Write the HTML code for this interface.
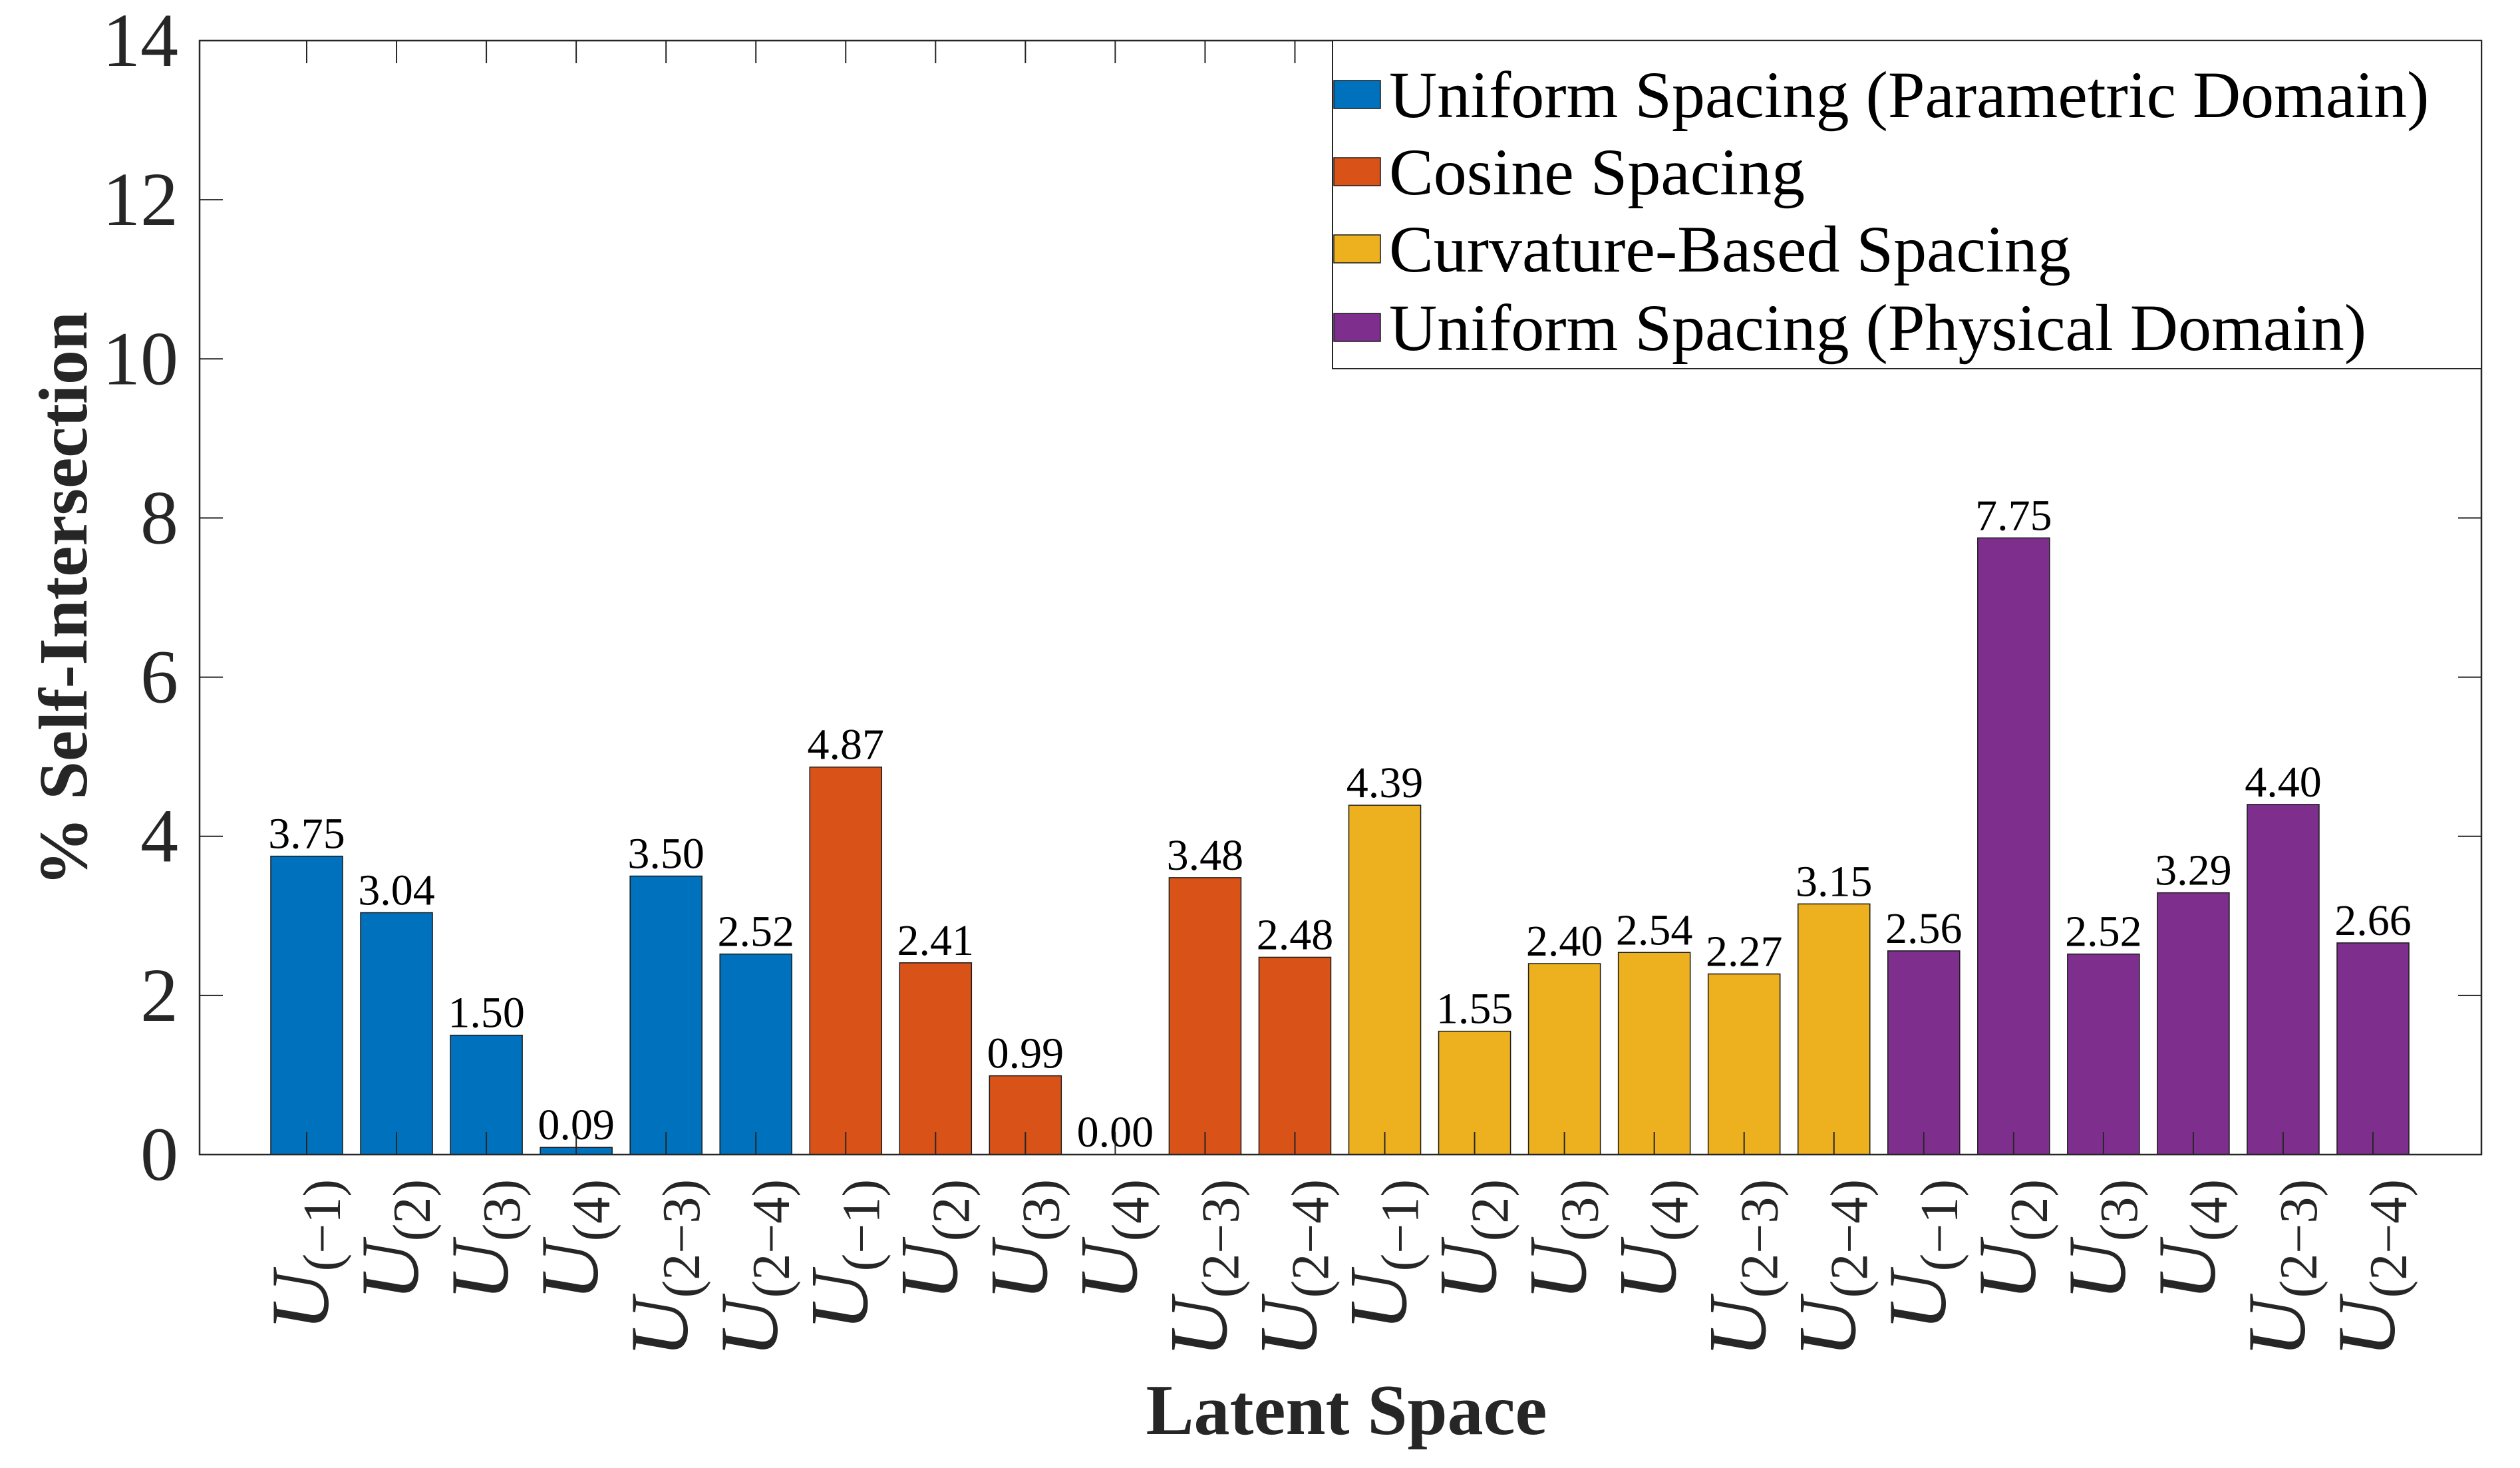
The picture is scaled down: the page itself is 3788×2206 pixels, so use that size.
<!DOCTYPE html>
<html><head><meta charset="utf-8"><style>
html,body{margin:0;padding:0;background:#fff}
svg{display:block}
</style></head><body>
<svg id="chart" width="3788" height="2206" viewBox="0 0 3788 2206" xmlns="http://www.w3.org/2000/svg" font-family="'Liberation Serif', serif">
<rect x="0" y="0" width="3788" height="2206" fill="#fff"/>
<g id="bars"></g>
<g id="axes"></g>
<text x="2024" y="2155" font-size="108" font-weight="bold" text-anchor="middle" fill="#262626">Latent Space</text>
<text transform="translate(130,900) rotate(-90)" font-size="104" font-weight="bold" text-anchor="middle" fill="#262626">% Self-Intersection</text>
<g>
<rect x="2003" y="61" width="1727" height="493" fill="#fff" stroke="#262626" stroke-width="2"/>
<g id="legend-entries"></g>
</g>
</svg>
<script>
const categories = ["(−1)","(2)","(3)","(4)","(2−3)","(2−4)","(−1)","(2)","(3)","(4)","(2−3)","(2−4)","(−1)","(2)","(3)","(4)","(2−3)","(2−4)","(−1)","(2)","(3)","(4)","(2−3)","(2−4)"];
const values = [3.75,3.04,1.50,0.09,3.50,2.52,4.87,2.41,0.99,0.00,3.48,2.48,4.39,1.55,2.40,2.54,2.27,3.15,2.56,7.75,2.52,3.29,4.40,2.66];
const valueLabels = ["3.75","3.04","1.50","0.09","3.50","2.52","4.87","2.41","0.99","0.00","3.48","2.48","4.39","1.55","2.40","2.54","2.27","3.15","2.56","7.75","2.52","3.29","4.40","2.66"];
const groupOf = [0,0,0,0,0,0,1,1,1,1,1,1,2,2,2,2,2,2,3,3,3,3,3,3];
const seriesNames = ["Uniform Spacing (Parametric Domain)","Cosine Spacing","Curvature-Based Spacing","Uniform Spacing (Physical Domain)"];
const seriesColors = ["#0072BD","#D95319","#EDB120","#7E2F8E"];
const yTicks = [0,2,4,6,8,10,12,14];

const NS="http://www.w3.org/2000/svg";
const L=300,R=3730,T=61,B=1735;
const yMax=14;
const x0=461, dx=(3567-461)/23;
function xs(i){return x0+i*dx;}
function ys(v){return B-(v/yMax)*(B-T);}
function mk(tag,attrs,parent){const e=document.createElementNS(NS,tag);for(const k in attrs)e.setAttribute(k,attrs[k]);parent.appendChild(e);return e;}

const bars=document.getElementById('bars');
const bw=dx*0.8;
values.forEach((v,i)=>{
  const c=xs(i);
  const r=mk('rect',{x:c-bw/2,y:ys(v),width:bw,height:Math.max(0,B-ys(v)),fill:seriesColors[groupOf[i]],stroke:'#1a1a1a','stroke-width':1.5},bars);
  
  
  const t=mk('text',{x:c,y:ys(v)-12,'font-size':66,'text-anchor':'middle',fill:'#000'},bars);
  
  
  t.textContent=valueLabels[i];
});

const ax=document.getElementById('axes');
const frame=mk('rect',{x:L,y:T,width:R-L,height:B-T,fill:'none',stroke:'#262626','stroke-width':2.5},ax);


yTicks.forEach(v=>{
  const y=ys(v);
  mk('line',{x1:L,x2:L+35,y1:y,y2:y,stroke:'#262626','stroke-width':2},ax);
  mk('line',{x1:R,x2:R-35,y1:y,y2:y,stroke:'#262626','stroke-width':2},ax);
  const t=mk('text',{x:268,y:y+38,'font-size':114,'text-anchor':'end',fill:'#262626'},ax);
  
  
  t.textContent=v;
});
categories.forEach((c,i)=>{
  const x=xs(i);
  mk('line',{x1:x,x2:x,y1:T,y2:T+34,stroke:'#262626','stroke-width':2},ax);
  mk('line',{x1:x,x2:x,y1:B,y2:B-34,stroke:'#262626','stroke-width':2},ax);
  const t=mk('text',{transform:`translate(${x+32},1772) rotate(-90)`,'text-anchor':'end',fill:'#262626'},ax);
  
  
  const u=mk('tspan',{'font-size':124,'font-style':'italic'},t);u.textContent='U';
  const s=mk('tspan',{'font-size':80,dy:18},t);s.textContent=c;
});

const le=document.getElementById('legend-entries');
const rowY=[142,258,374,492];
seriesNames.forEach((n,i)=>{
  const g=mk('g',{},le);
  
  
  mk('rect',{x:2005,y:rowY[i]-21,width:70,height:42,fill:seriesColors[i],stroke:'#1a1a1a','stroke-width':1.5},g);
  const t=mk('text',{x:2088,y:rowY[i]+34,'font-size':100,fill:'#000'},g);
  t.textContent=n;
});
</script>
</body></html>
